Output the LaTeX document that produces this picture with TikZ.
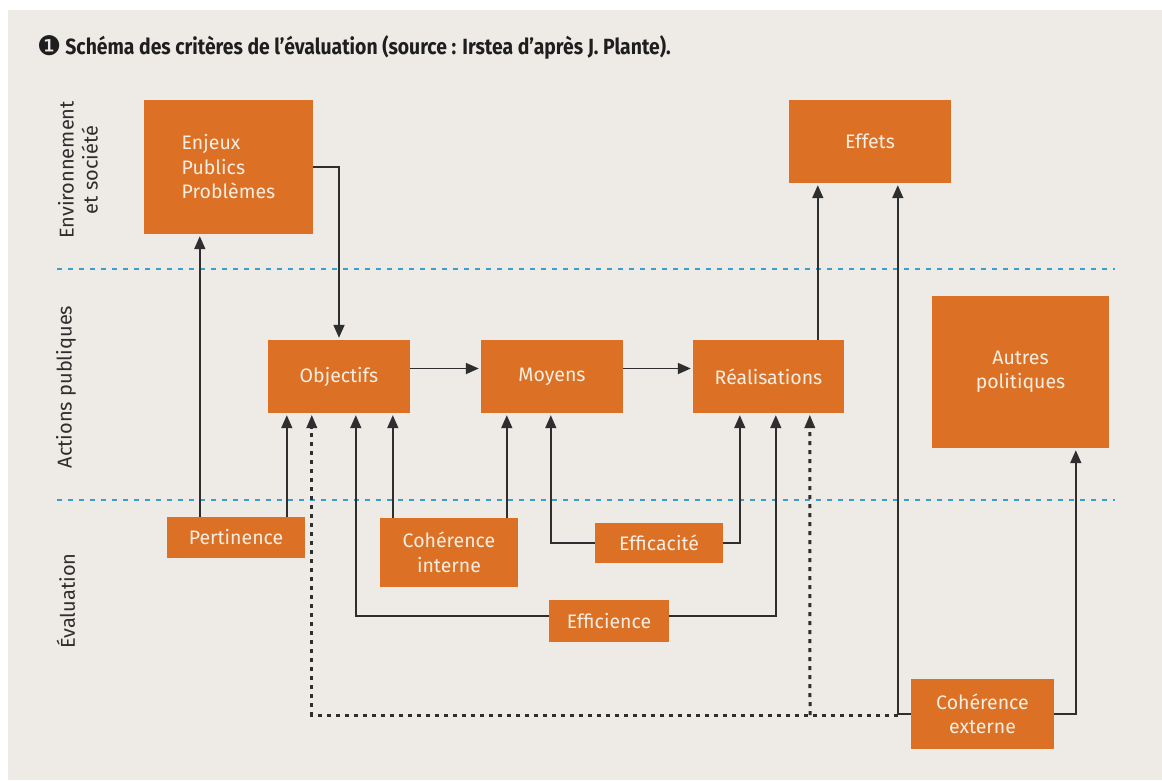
\documentclass[tikz,border=0pt]{standalone}
\usepackage{fontspec}
\setmainfont{Fira Sans}
\newfontfamily\symfont{DejaVu Sans}
\usetikzlibrary{arrows.meta}
\definecolor{bg}{HTML}{EEEAE6}
\definecolor{org}{HTML}{DC7125}
\definecolor{txt}{HTML}{F6EEE2}
\definecolor{ln}{HTML}{2E2E2E}
\definecolor{ttl}{HTML}{1E1E1E}
\definecolor{blu}{HTML}{3AA0CB}
\begin{document}
\begin{tikzpicture}[x=1pt,y=-1pt,
  box/.style={fill=org, text=txt, inner sep=0pt, font=\fontsize{19.5}{24.5}\selectfont, align=center},
  tipA/.style={-{Triangle[length=13pt,width=11pt]}, shorten >=2pt},
  arr/.style={draw=ln, line width=1.8pt, tipA},
  dots/.style={draw=ln, line width=3pt, dash pattern=on 4pt off 5pt},
  dotarr/.style={dots, -{Triangle[length=13pt,width=11pt,line width=0.5pt]}, shorten >=2pt},
  sep/.style={draw=blu, line width=2.6pt, dash pattern=on 5pt off 6pt},
  side/.style={rotate=90, text=ln, font=\fontsize{20}{24}\selectfont, align=center}]
\useasboundingbox (0,0) rectangle (1162,780);
\fill[white] (0,0) rectangle (1162,780);
\fill[bg] (8,10) rectangle (1162,780);
% title
\node[anchor=west, text=ttl, inner sep=0pt] (title) at (37,47)
  {\raisebox{-1pt}{\symfont\fontsize{27}{28}\selectfont ❶}\hspace{4pt}\scalebox{0.88}[1]{\fontsize{22}{24}\selectfont\bfseries Schéma des critères de l’évaluation (source : Irstea d’après J. Plante).}};
% separators
\draw[sep] (57,269) -- (1115,269);
\draw[sep] (57,500) -- (1115,500);
% side labels
\node[side] (lenv) at (78,170) {Environnement\\et société};
\node[side] (lact) at (66,387) {Actions publiques};
\node[side] (leva) at (66,601) {Évaluation};
% boxes
\node[box, minimum width=169pt, minimum height=134pt, align=left] (ent) at (228.5,167) {Enjeux\\Publics\\Problèmes};
\node[box, minimum width=162pt, minimum height=83pt] (eff) at (870,141.5) {Effets};
\node[box, minimum width=142pt, minimum height=73pt] (obj) at (339,376.5) {Objectifs};
\node[box, minimum width=142pt, minimum height=73pt] (moy) at (552,376.5) {Moyens};
\node[box, minimum width=151pt, minimum height=73pt] (rea) at (768.5,376.5) {Réalisations};
\node[box, minimum width=177pt, minimum height=152pt] (aut) at (1020.5,372) {Autres\\politiques};
\node[box, minimum width=138pt, minimum height=41pt] (per) at (236,537.5) {Pertinence};
\node[box, minimum width=138pt, minimum height=69pt] (cin) at (449,552.5) {Cohérence\\interne};
\node[box, minimum width=128pt, minimum height=40pt] (efa) at (659,543) {Efficacité};
\node[box, minimum width=120pt, minimum height=42pt] (efi) at (609,621) {Efficience};
\node[box, minimum width=143pt, minimum height=70pt] (cex) at (982.5,714) {Cohérence\\externe};
% junctions of the dotted line
\coordinate (j1) at (898,715);
\coordinate (j2) at (810,715);
% dotted connectors
\draw[dotarr] (j1) -| ([xshift=44pt]obj.south west);
\draw[dotarr] (j2) -- ([xshift=117pt]rea.south west);
% solid connectors
\draw[arr] ([xshift=33pt]per.north west) -- ([xshift=56pt]ent.south west);
\draw[arr] ([xshift=120pt]per.north west) -- ([xshift=19pt]obj.south west);
\draw[arr] (ent.east) -| (obj.north);
\draw[arr] ([yshift=8pt]obj.east) -- ([yshift=8pt]moy.west);
\draw[arr] ([yshift=8pt]moy.east) -- ([yshift=8pt]rea.west);
\draw[arr] ([xshift=125pt]rea.north west) -- ([xshift=29pt]eff.south west);
\draw[arr] (cex.west) -| ([xshift=109pt]eff.south west);
\draw[arr] (cex.east) -| ([xshift=144pt]aut.south west);
\draw[arr] ([xshift=13pt]cin.north west) -- ([xshift=125pt]obj.south west);
\draw[arr] ([xshift=127pt]cin.north west) -- ([xshift=26pt]moy.south west);
\draw[arr] (efa.west) -| ([xshift=70pt]moy.south west);
\draw[arr] (efa.east) -| ([xshift=47pt]rea.south west);
\draw[arr] ([yshift=5pt]efi.west) -| ([xshift=88pt]obj.south west);
\draw[arr] ([yshift=5pt]efi.east) -| ([xshift=83pt]rea.south west);
\end{tikzpicture}
\end{document}
